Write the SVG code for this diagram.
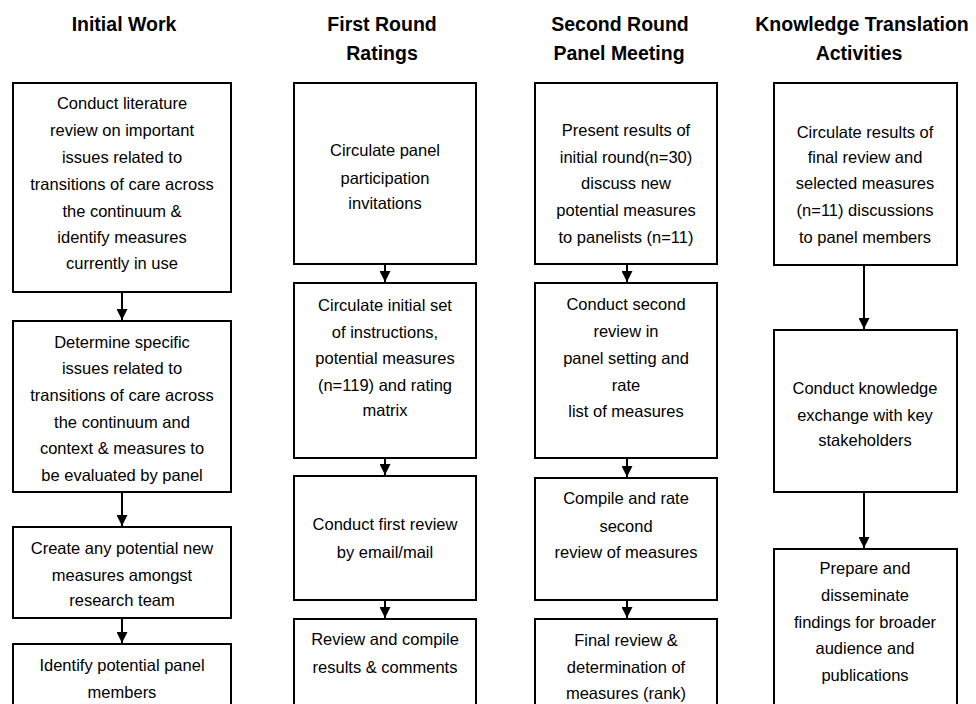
<svg xmlns="http://www.w3.org/2000/svg" width="976" height="704" viewBox="0 0 976 704">
<style>
.hd{font-family:"Liberation Sans",Arial,sans-serif;font-weight:bold;font-size:19.5px;fill:#000;text-anchor:middle}
.tx{font-family:"Liberation Sans",Arial,sans-serif;font-size:16.5px;fill:#000;text-anchor:middle}
.bx{fill:#fff;stroke:#000;stroke-width:2}
.ln{stroke:#000;stroke-width:2;fill:none}
</style>
<defs>
<marker id="ah" markerUnits="userSpaceOnUse" markerWidth="12" markerHeight="11" refX="11" refY="5.5" orient="auto" viewBox="0 0 12 11">
<path d="M0,0 L11,5.5 L0,11 z" fill="#000"/>
</marker>
</defs>
<rect width="976" height="704" fill="#fff"/>
<g id="headers">
<text class="hd" x="124" y="31">Initial Work</text>
<text class="hd" x="382" y="31">First Round</text>
<text class="hd" x="382" y="60">Ratings</text>
<text class="hd" x="620" y="31">Second Round</text>
<text class="hd" x="619" y="60">Panel Meeting</text>
<text class="hd" x="862" y="31">Knowledge Translation</text>
<text class="hd" x="859" y="60">Activities</text>
</g>
<g id="c1n1"><rect class="bx" x="13" y="83" width="218" height="209"/>
<text class="tx" x="122" y="109">Conduct literature</text>
<text class="tx" x="122" y="136">review on important</text>
<text class="tx" x="122" y="163">issues related to</text>
<text class="tx" x="122" y="190">transitions of care across</text>
<text class="tx" x="122" y="217">the continuum &amp;</text>
<text class="tx" x="122" y="243">identify measures</text>
<text class="tx" x="122" y="269">currently in use</text></g>
<g id="c1n2"><rect class="bx" x="13" y="321" width="218" height="171"/>
<text class="tx" x="122" y="348">Determine specific</text>
<text class="tx" x="122" y="374">issues related to</text>
<text class="tx" x="122" y="401">transitions of care across</text>
<text class="tx" x="122" y="428">the continuum and</text>
<text class="tx" x="122" y="454">context &amp; measures to</text>
<text class="tx" x="122" y="481">be evaluated by panel</text></g>
<g id="c1n3"><rect class="bx" x="13" y="527" width="218" height="91"/>
<text class="tx" x="122" y="554">Create any potential new</text>
<text class="tx" x="122" y="581">measures amongst</text>
<text class="tx" x="122" y="606">research team</text></g>
<g id="c1n4"><rect class="bx" x="13" y="644" width="218" height="80"/>
<text class="tx" x="122" y="671">Identify potential panel</text>
<text class="tx" x="122" y="698">members</text></g>
<g id="c2n1"><rect class="bx" x="294" y="83" width="182" height="181"/>
<text class="tx" x="385" y="156">Circulate panel</text>
<text class="tx" x="385" y="184">participation</text>
<text class="tx" x="385" y="209">invitations</text></g>
<g id="c2n2"><rect class="bx" x="294" y="283" width="182" height="175"/>
<text class="tx" x="385" y="311">Circulate initial set</text>
<text class="tx" x="385" y="338">of instructions,</text>
<text class="tx" x="385" y="364">potential measures</text>
<text class="tx" x="385" y="391">(n=119) and rating</text>
<text class="tx" x="385" y="416">matrix</text></g>
<g id="c2n3"><rect class="bx" x="294" y="476" width="182" height="124"/>
<text class="tx" x="385" y="530">Conduct first review</text>
<text class="tx" x="385" y="558">by email/mail</text></g>
<g id="c2n4"><rect class="bx" x="294" y="619" width="182" height="100"/>
<text class="tx" x="385" y="645">Review and compile</text>
<text class="tx" x="385" y="673">results &amp; comments</text></g>
<g id="c3n1"><rect class="bx" x="535" y="83" width="182" height="181"/>
<text class="tx" x="626" y="136">Present results of</text>
<text class="tx" x="626" y="163">initial round(n=30)</text>
<text class="tx" x="626" y="189">discuss new</text>
<text class="tx" x="626" y="216">potential measures</text>
<text class="tx" x="626" y="243">to panelists (n=11)</text></g>
<g id="c3n2"><rect class="bx" x="535" y="283" width="182" height="175"/>
<text class="tx" x="626" y="310">Conduct second</text>
<text class="tx" x="626" y="337">review in</text>
<text class="tx" x="626" y="364">panel setting and</text>
<text class="tx" x="626" y="391">rate</text>
<text class="tx" x="626" y="417">list of measures</text></g>
<g id="c3n3"><rect class="bx" x="535" y="478" width="182" height="122"/>
<text class="tx" x="626" y="504">Compile and rate</text>
<text class="tx" x="626" y="532">second</text>
<text class="tx" x="626" y="558">review of measures</text></g>
<g id="c3n4"><rect class="bx" x="535" y="619" width="182" height="100"/>
<text class="tx" x="626" y="646">Final review &amp;</text>
<text class="tx" x="626" y="673">determination of</text>
<text class="tx" x="626" y="699">measures (rank)</text></g>
<g id="c4n1"><rect class="bx" x="774" y="83" width="183" height="182"/>
<text class="tx" x="865" y="138">Circulate results of</text>
<text class="tx" x="865" y="163">final review and</text>
<text class="tx" x="865" y="189">selected measures</text>
<text class="tx" x="865" y="216">(n=11) discussions</text>
<text class="tx" x="865" y="243">to panel members</text></g>
<g id="c4n2"><rect class="bx" x="774" y="330" width="183" height="162"/>
<text class="tx" x="865" y="394">Conduct knowledge</text>
<text class="tx" x="865" y="421">exchange with key</text>
<text class="tx" x="865" y="446">stakeholders</text></g>
<g id="c4n3"><rect class="bx" x="774" y="549" width="183" height="170"/>
<text class="tx" x="865" y="574">Prepare and</text>
<text class="tx" x="865" y="601">disseminate</text>
<text class="tx" x="865" y="628">findings for broader</text>
<text class="tx" x="865" y="654">audience and</text>
<text class="tx" x="865" y="681">publications</text></g>
<g id="connectors">
<line class="ln" x1="122" y1="292" x2="122" y2="320" marker-end="url(#ah)"/>
<line class="ln" x1="122" y1="492" x2="122" y2="526" marker-end="url(#ah)"/>
<line class="ln" x1="122" y1="618" x2="122" y2="643" marker-end="url(#ah)"/>
<line class="ln" x1="385" y1="264" x2="385" y2="282" marker-end="url(#ah)"/>
<line class="ln" x1="385" y1="458" x2="385" y2="475" marker-end="url(#ah)"/>
<line class="ln" x1="385" y1="600" x2="385" y2="618" marker-end="url(#ah)"/>
<line class="ln" x1="627" y1="264" x2="627" y2="282" marker-end="url(#ah)"/>
<line class="ln" x1="627" y1="458" x2="627" y2="477" marker-end="url(#ah)"/>
<line class="ln" x1="627" y1="600" x2="627" y2="618" marker-end="url(#ah)"/>
<line class="ln" x1="864" y1="265" x2="864" y2="329" marker-end="url(#ah)"/>
<line class="ln" x1="864" y1="492" x2="864" y2="548" marker-end="url(#ah)"/>
</g>
</svg>
